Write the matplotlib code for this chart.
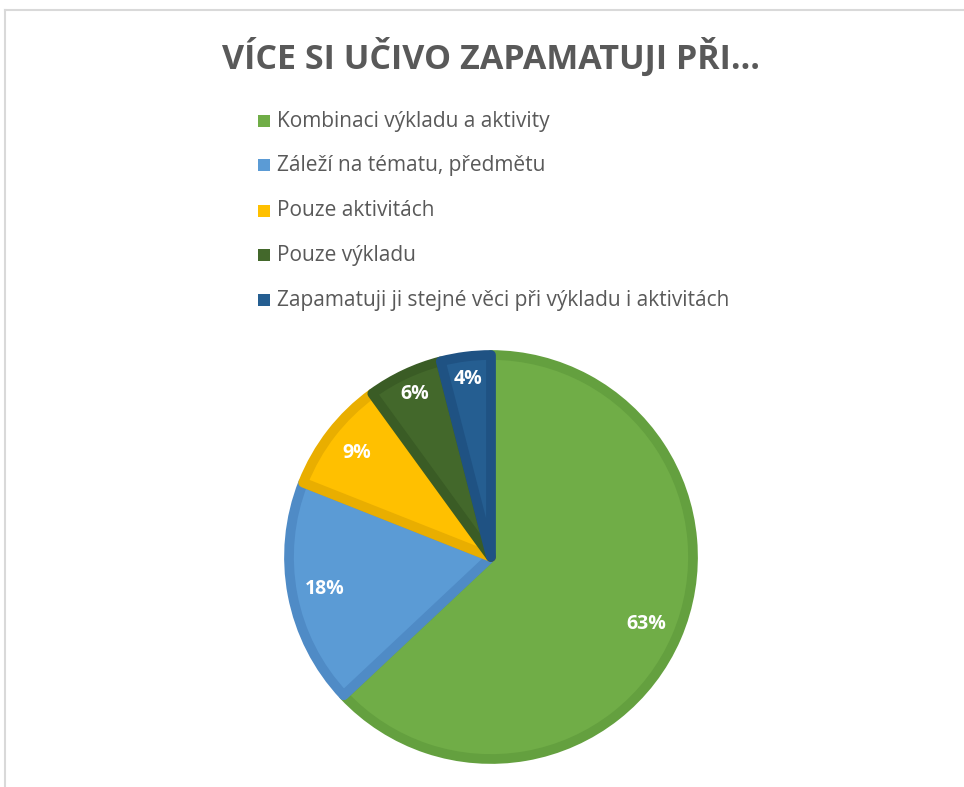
import numpy as np
import matplotlib
matplotlib.use("Agg")
import matplotlib.pyplot as plt
from matplotlib.patches import Rectangle
from matplotlib.lines import Line2D

title = "VÍCE SI UČIVO ZAPAMATUJI PŘI…"
categories = [
    "Kombinaci výkladu a aktivity",
    "Záleží na tématu, předmětu",
    "Pouze aktivitách",
    "Pouze výkladu",
    "Zapamatuji ji stejné věci při výkladu i aktivitách",
]
values = [63, 18, 9, 6, 4]
fill_colors = ["#70AD47", "#5B9BD5", "#FFC000", "#43682B", "#255E91"]
edge_colors = ["#64A03F", "#4F8BC6", "#E9AE00", "#3A5C25", "#1F5283"]
label_dist = [0.84, 0.84, 0.84, 0.89, 0.89]

W, H = 964, 787
fig = plt.figure(figsize=(W / 100, H / 100), dpi=100)
fig.patch.set_facecolor("white")

# frame lines
fig.add_artist(Line2D([5 / W, 5 / W], [0, 1 - 10 / H], color="#d9d9d9", lw=1.5))
fig.add_artist(Line2D([5 / W, 1], [1 - 10 / H, 1 - 10 / H], color="#d9d9d9", lw=1.5))

# pie axes
cx, cy, r = 491, 557, 202
ax = fig.add_axes([(cx - r) / W, (H - cy - r) / H, 2 * r / W, 2 * r / H])
wedges, texts, autotexts = ax.pie(
    values,
    colors=fill_colors,
    startangle=90,
    counterclock=False,
    autopct=lambda p: f"{p:.0f}%",
    pctdistance=0.84,
    wedgeprops=dict(linewidth=7, joinstyle="round"),
    textprops=dict(color="white", fontsize=14, fontweight="bold", family="Open Sans"),
)
for w, ec, t, d in zip(wedges, edge_colors, autotexts, label_dist):
    w.set_edgecolor(ec)
    ang = np.deg2rad((w.theta1 + w.theta2) / 2)
    t.set_position((d * np.cos(ang), d * np.sin(ang)))
ax.set_xlim(-1, 1)
ax.set_ylim(-1, 1)
ax.set_aspect("equal")
ax.axis("off")

# title
fig.text(cx / W, 1 - 57 / H, title, ha="center", va="center",
         fontsize=24.5, fontweight="bold", color="#595959", family="Open Sans")

# legend (manual)
ys = [121, 165, 211, 255, 300]
for lab, col, y in zip(categories, fill_colors, ys):
    fig.add_artist(Rectangle((258 / W, 1 - (y + 6) / H), 12 / W, 12 / H,
                             transform=fig.transFigure, facecolor=col, edgecolor="none"))
    fig.text(277 / W, 1 - y / H, lab, ha="left", va="center",
             fontsize=15, color="#595959", family="Open Sans")

fig.savefig("out.png", dpi=100)
